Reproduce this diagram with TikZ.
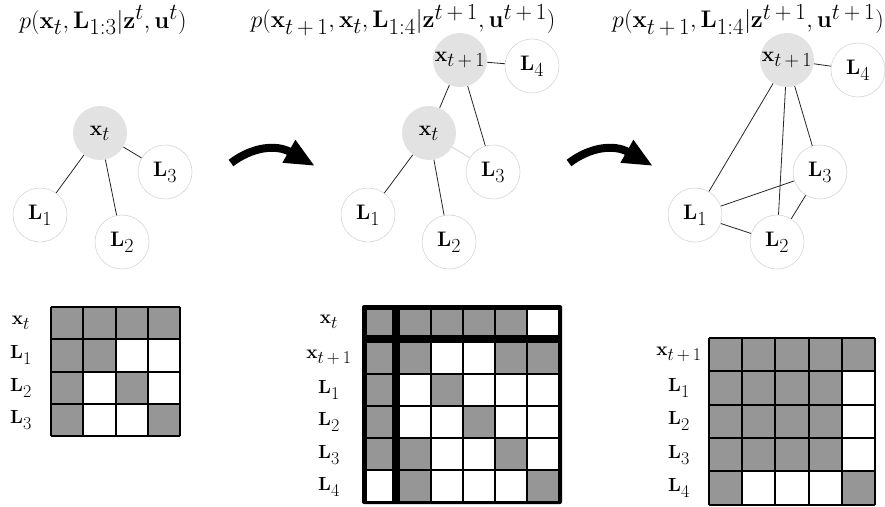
\RequirePackage{fix-cm}
\documentclass[tikz,border=0pt]{standalone}
\usepackage{amsmath}
\usetikzlibrary{arrows.meta}
\DeclareMathSizes{24}{24}{23}{19}
\DeclareMathSizes{21}{21}{20}{16}
\DeclareMathSizes{19}{19}{18}{14}
\newcommand{\tpo}{t\,+\,1}
\definecolor{cellgray}{HTML}{969696}
\definecolor{nodegray}{HTML}{E2E2E2}
\definecolor{ringgray}{HTML}{D6D6D6}
\begin{document}
\begin{tikzpicture}[x=1pt,y=-1pt,
  varnode/.style={circle,minimum size=54pt,inner sep=0pt,fill=nodegray,font=\fontsize{21}{24}\selectfont},
  lmnode/.style={circle,minimum size=54pt,inner sep=0pt,draw=ringgray,line width=0.6pt,fill=white,font=\fontsize{21}{24}\selectfont},
  edge/.style={line width=0.8pt,draw=black!85},
  faint/.style={line width=0.8pt,draw=black!18},
  bigarrow/.style={line width=8pt,-{Triangle[length=30pt,width=24pt]}},
  grid/.style={draw=black,line width=2pt},
  title/.style={inner sep=0pt,font=\fontsize{24}{28}\selectfont},
  lbl/.style={inner sep=0pt,font=\fontsize{19}{22}\selectfont}]
\useasboundingbox (0,0) rectangle (885,506);

% ---------- titles ----------
\node[title] (t1) at (103,20) {$p(\mathbf{x}_t, \mathbf{L}_{1:3}|\mathbf{z}^t, \mathbf{u}^t)$};
\node[title] (t2) at (403,20) {$p(\mathbf{x}_{\tpo}, \mathbf{x}_t, \mathbf{L}_{1:4}|\mathbf{z}^{\tpo}, \mathbf{u}^{\tpo})$};
\node[title] (t3) at (748,20) {$p(\mathbf{x}_{\tpo}, \mathbf{L}_{1:4}|\mathbf{z}^{\tpo}, \mathbf{u}^{\tpo})$};

% ---------- graph 1 ----------
\node[varnode] (a-x) at (100,133) {$\mathbf{x}_t$};
\node[lmnode] (a-l3) at (165,172) {$\mathbf{L}_3$};
\node[lmnode] (a-l1) at (40,215) {$\mathbf{L}_1$};
\node[lmnode] (a-l2) at (122,242) {$\mathbf{L}_2$};
\draw[edge] (a-x) -- (a-l1);
\draw[edge] (a-x) -- (a-l2);
\draw[edge] (a-x) -- (a-l3);

% ---------- graph 2 ----------
\node[varnode] (b-y) at (460,60) {$\mathbf{x}_{\tpo}$};
\node[lmnode] (b-l4) at (532,66) {$\mathbf{L}_4$};
\node[varnode] (b-x) at (429,133) {$\mathbf{x}_t$};
\node[lmnode] (b-l3) at (493,172) {$\mathbf{L}_3$};
\node[lmnode] (b-l1) at (368,215) {$\mathbf{L}_1$};
\node[lmnode] (b-l2) at (449,242) {$\mathbf{L}_2$};
\draw[edge] (b-y) -- (b-l4);
\draw[edge] (b-y) -- (b-x);
\draw[edge] (b-y) -- (b-l3);
\draw[edge] (b-x) -- (b-l1);
\draw[edge] (b-x) -- (b-l2);
\draw[faint] (b-x) -- (b-l3);

% ---------- graph 3 ----------
\node[varnode] (c-y) at (787,60) {$\mathbf{x}_{\tpo}$};
\node[lmnode] (c-l4) at (858,70) {$\mathbf{L}_4$};
\node[lmnode] (c-l3) at (820,172) {$\mathbf{L}_3$};
\node[lmnode] (c-l1) at (695,215) {$\mathbf{L}_1$};
\node[lmnode] (c-l2) at (777,242) {$\mathbf{L}_2$};
\draw[edge] (c-y) -- (c-l4);
\draw[edge] (c-y) -- (c-l1);
\draw[edge] (c-y) -- (c-l2);
\draw[edge] (c-y) -- (c-l3);
\draw[edge] (c-l1) -- (c-l3);
\draw[edge] (c-l1) -- (c-l2);
\draw[edge] (c-l2) -- (c-l3);

% ---------- arrows ----------
\coordinate (ar1s) at (231,163);
\coordinate (ar1e) at (315,166);
\draw[bigarrow] (ar1s) .. controls (252,147) and (276,144) .. (ar1e);
\coordinate (ar2s) at (569,163);
\coordinate (ar2e) at (653,166);
\draw[bigarrow] (ar2s) .. controls (590,147) and (614,144) .. (ar2e);

% ---------- matrix 1 ----------
\begin{scope}[shift={(51,307)}]
  \fill[white] (0,0) rectangle (129.2,129.2);
  \foreach \c/\r in {0/0,1/0,2/0,3/0,0/1,1/1,0/2,2/2,0/3,3/3}
    \fill[cellgray] ({\c*32.3},{\r*32.3}) rectangle +(32.3,32.3);
  \foreach \i in {0,...,4} {
    \draw[grid] ({\i*32.3},0) -- ({\i*32.3},129.2);
    \draw[grid] (0,{\i*32.3}) -- (129.2,{\i*32.3});
  }
\end{scope}
\node[lbl] (m1-0) at (21,323) {$\mathbf{x}_t$};
\node[lbl] (m1-1) at (21,355) {$\mathbf{L}_1$};
\node[lbl] (m1-2) at (21,388) {$\mathbf{L}_2$};
\node[lbl] (m1-3) at (21,420) {$\mathbf{L}_3$};

% ---------- matrix 2 ----------
\fill[black,rounded corners=2pt] (362,305) rectangle (562,504);
\fill[cellgray] (367,310) rectangle +(25,25);
\foreach \c in {1,...,4} \fill[cellgray] ({400+32*(\c-1)},310) rectangle +(30,25);
\fill[white] (528,310) rectangle +(30,25);
\foreach \r in {1,...,4} \fill[cellgray] (367,{343+32*(\r-1)}) rectangle +(25,30);
\fill[white] (367,471) rectangle +(25,30);
\foreach \r in {1,...,5} \foreach \c in {1,...,5}
  \fill[white] ({400+32*(\c-1)},{343+32*(\r-1)}) rectangle +(30,30);
\foreach \c/\r in {1/1,4/1,5/1,2/2,3/3,1/4,4/4,1/5,5/5}
  \fill[cellgray] ({400+32*(\c-1)},{343+32*(\r-1)}) rectangle +(30,30);
\node[lbl] (m2-0) at (329,322) {$\mathbf{x}_t$};
\node[lbl] (m2-1) at (329,357) {$\mathbf{x}_{\tpo}$};
\node[lbl] (m2-2) at (329,390) {$\mathbf{L}_1$};
\node[lbl] (m2-3) at (329,422) {$\mathbf{L}_2$};
\node[lbl] (m2-4) at (329,455) {$\mathbf{L}_3$};
\node[lbl] (m2-5) at (329,487) {$\mathbf{L}_4$};

% ---------- matrix 3 ----------
\begin{scope}[shift={(709,338)}]
  \fill[white] (0,0) rectangle (166,166.5);
  \foreach \c/\r in {0/0,1/0,2/0,3/0,4/0,0/1,1/1,2/1,3/1,0/2,1/2,2/2,3/2,0/3,1/3,2/3,3/3,0/4,4/4}
    \fill[cellgray] ({\c*33.2},{\r*33.3}) rectangle +(33.2,33.3);
  \foreach \i in {0,...,5} {
    \draw[grid] ({\i*33.2},0) -- ({\i*33.2},166.5);
    \draw[grid] (0,{\i*33.3}) -- (166,{\i*33.3});
  }
\end{scope}
\node[lbl] (m3-0) at (679,354) {$\mathbf{x}_{\tpo}$};
\node[lbl] (m3-1) at (679,388) {$\mathbf{L}_1$};
\node[lbl] (m3-2) at (679,421) {$\mathbf{L}_2$};
\node[lbl] (m3-3) at (679,455) {$\mathbf{L}_3$};
\node[lbl] (m3-4) at (679,488) {$\mathbf{L}_4$};
\end{tikzpicture}
\end{document}
